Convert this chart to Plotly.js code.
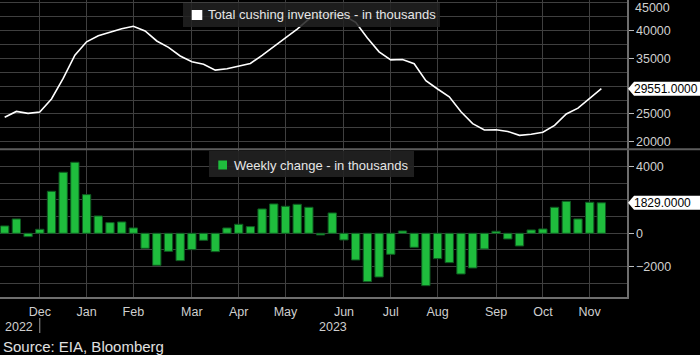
<!DOCTYPE html>
<html>
<head>
<meta charset="utf-8">
<script src="https://cdn.plot.ly/plotly-3.0.1.min.js"></script>
<style>html,body{margin:0;padding:0;background:#000;}#chart{width:700px;height:355px;}</style>
</head>
<body>
<div id="chart"></div>
<script>
// Week-ending dates (categories)
const weeks = [
  "2022-11-11","2022-11-18","2022-11-25","2022-12-02","2022-12-09","2022-12-16","2022-12-23","2022-12-30",
  "2023-01-06","2023-01-13","2023-01-20","2023-01-27","2023-02-03","2023-02-10","2023-02-17","2023-02-24",
  "2023-03-03","2023-03-10","2023-03-17","2023-03-24","2023-03-31","2023-04-07","2023-04-14","2023-04-21",
  "2023-04-28","2023-05-05","2023-05-12","2023-05-19","2023-05-26","2023-06-02","2023-06-09","2023-06-16",
  "2023-06-23","2023-06-30","2023-07-07","2023-07-14","2023-07-21","2023-07-28","2023-08-04","2023-08-11",
  "2023-08-18","2023-08-25","2023-09-01","2023-09-08","2023-09-15","2023-09-22","2023-09-29","2023-10-06",
  "2023-10-13","2023-10-20","2023-10-27","2023-11-03"
];
// Total Cushing inventories (thousand barrels)
const inventories = [
  24400,25450,25100,25350,27700,31400,35600,38000,39100,39700,40350,40800,39950,38150,37000,35450,
  34400,33950,32900,33150,33650,34100,35550,37200,38700,40300,42100,42700,42950,42750,41500,38700,
  36200,34750,34800,34050,31000,29500,28100,25400,23250,22100,22150,21850,21150,21350,21700,22950,
  25000,26050,27800,29551
];
// Weekly change (thousand barrels)
const weeklyChange = [
  440,860,-200,240,2520,3660,4260,2320,1040,640,680,320,-900,-1920,-1080,-1640,
  -980,-420,-1100,320,540,400,1460,1760,1620,1740,1560,-100,1220,-400,-1600,-2900,
  -2620,-1260,140,-840,-3140,-1520,-1760,-2440,-2080,-940,120,-340,-760,200,260,1560,
  1920,860,1860,1829
];
// Month tick positions and labels
const tickWeeks = ["2022-12-02","2022-12-30","2023-01-27","2023-03-03","2023-03-31","2023-04-28",
                   "2023-06-02","2023-06-30","2023-07-28","2023-09-01","2023-09-29","2023-10-27"];
const tickLabels = ["Dec","Jan","Feb","Mar","Apr","May","Jun","Jul","Aug","Sep","Oct","Nov"];
const invTicks = [20000,25000,35000,40000];
const chgTicks = [-2000,0,4000];

const FONT = "Liberation Sans, Arial, sans-serif";
const GRID = "#3f3f3f";
const AXIS = "#6e6e6e";
const TXT = "#cfcfcf";
const PW = 627, PH = 297; // plot area in px
const px = x => x / PW, py = y => 1 - y / PH;

const lastInv = inventories[inventories.length - 1];
const lastChg = weeklyChange[weeklyChange.length - 1];

const traces = [
  {type: "scatter", mode: "lines", x: weeks, y: inventories, xaxis: "x", yaxis: "y",
   line: {color: "#ffffff", width: 1.6}, hoverinfo: "skip", showlegend: false},
  {type: "bar", x: weeks, y: weeklyChange, xaxis: "x", yaxis: "y2",
   marker: {color: "#1fbd3d", line: {color: "#0e5a20", width: 1}}, hoverinfo: "skip", showlegend: false}
];

const labelPath = "M 1 0 L 7 -7 L 80 -7 L 80 7 L 7 7 Z";

const layout = {
  width: 700, height: 355,
  margin: {l: 0, r: 73, t: 0, b: 58},
  paper_bgcolor: "#000", plot_bgcolor: "#000",
  font: {family: FONT, color: TXT, size: 12.5},
  bargap: 0.29,
  showlegend: false,
  xaxis: {
    type: "category", anchor: "y2", range: [-0.4, 53.19],
    tickmode: "array", tickvals: tickWeeks, ticktext: tickLabels,
    showgrid: true, gridcolor: GRID, gridwidth: 1,
    showline: true, linecolor: AXIS, linewidth: 1.5,
    ticks: "outside", ticklen: 2, tickcolor: "rgba(0,0,0,0)",
    tickfont: {family: FONT, size: 12.5, color: TXT}, zeroline: false
  },
  yaxis: {
    domain: [0.5, 1], anchor: "x", side: "right", range: [18775, 45532],
    tickmode: "array", tickvals: invTicks, tickformat: "d",
    showgrid: true, gridcolor: GRID,
    minor: {dtick: 2500, tick0: 0, showgrid: true, gridcolor: GRID, ticks: ""},
    showline: true, linecolor: AXIS, linewidth: 1.5,
    ticks: "outside", ticklen: 5, tickcolor: "#bbbbbb",
    tickfont: {family: FONT, size: 12.5, color: TXT}, zeroline: false
  },
  yaxis2: {
    domain: [0, 0.495], anchor: "x", side: "right", range: [-3821, 4997],
    tickmode: "array", tickvals: chgTicks, tickformat: "d",
    showgrid: true, gridcolor: GRID,
    minor: {dtick: 1000, tick0: 0, showgrid: true, gridcolor: GRID, ticks: ""},
    showline: true, linecolor: AXIS, linewidth: 1.5,
    ticks: "outside", ticklen: 5, tickcolor: "#bbbbbb",
    tickfont: {family: FONT, size: 12.5, color: TXT}, zeroline: false
  },
  shapes: [
    // panel separator
    {type: "line", xref: "paper", yref: "paper", x0: 0, x1: px(700), y0: py(149.3), y1: py(149.3),
     line: {color: "#5c5c5c", width: 2}, layer: "above"},
    // year separator under Dec
    {type: "line", xref: "x", yref: "paper", x0: weeks.indexOf(tickWeeks[0]), x1: weeks.indexOf(tickWeeks[0]),
     y0: py(318), y1: py(333), line: {color: "#9a9a9a", width: 1}},
    // legend boxes
    {type: "rect", xref: "paper", yref: "paper", x0: px(183), x1: px(440), y0: py(27), y1: py(3),
     fillcolor: "rgba(34,34,34,0.86)", line: {width: 0}, layer: "above"},
    {type: "rect", xref: "paper", yref: "paper", x0: px(191.7), x1: px(202.3), y0: py(20), y1: py(10),
     fillcolor: "#ffffff", line: {width: 0}, layer: "above"},
    {type: "rect", xref: "paper", yref: "paper", x0: px(209), x1: px(414), y0: py(177), y1: py(151),
     fillcolor: "rgba(34,34,34,0.9)", line: {width: 0}, layer: "above"},
    {type: "rect", xref: "paper", yref: "paper", x0: px(218.3), x1: px(227), y0: py(169.5), y1: py(160.5),
     fillcolor: "#1fbd3d", line: {width: 0}, layer: "above"},
    // last value labels
    {type: "path", xref: "paper", yref: "y", xsizemode: "pixel", ysizemode: "pixel",
     xanchor: 1, yanchor: lastInv, path: labelPath, fillcolor: "#ffffff", line: {width: 0}, layer: "above"},
    {type: "path", xref: "paper", yref: "y2", xsizemode: "pixel", ysizemode: "pixel",
     xanchor: 1, yanchor: lastChg, path: labelPath, fillcolor: "#ffffff", line: {width: 0}, layer: "above"}
  ],
  annotations: [
    {xref: "paper", yref: "paper", x: px(206), y: py(15), xanchor: "left", yanchor: "middle",
     text: "Total cushing inventories - in thousands", showarrow: false,
     font: {family: FONT, size: 13, color: "#e6e6e6"}},
    {xref: "paper", yref: "paper", x: px(231.5), y: py(165), xanchor: "left", yanchor: "middle",
     text: "Weekly change - in thousands", showarrow: false,
     font: {family: FONT, size: 13, color: "#e6e6e6"}},
    {xref: "paper", yref: "y", x: 1, y: lastInv, xanchor: "left", yanchor: "middle", xshift: 5,
     text: lastInv.toFixed(4), showarrow: false, font: {family: FONT, size: 12, color: "#000"}},
    {xref: "paper", yref: "y2", x: 1, y: lastChg, xanchor: "left", yanchor: "middle", xshift: 5,
     text: lastChg.toFixed(4), showarrow: false, font: {family: FONT, size: 12, color: "#000"}},
    {xref: "paper", yref: "paper", x: px(633), y: py(8), xanchor: "left", yanchor: "middle",
     text: "45000", showarrow: false, font: {family: FONT, size: 12.5, color: TXT}},
    {xref: "paper", yref: "paper", x: px(35), y: py(327), xanchor: "right", yanchor: "middle",
     text: "2022", showarrow: false, font: {family: FONT, size: 12.5, color: TXT}},
    {xref: "paper", yref: "paper", x: px(333), y: py(327), xanchor: "center", yanchor: "middle",
     text: "2023", showarrow: false, font: {family: FONT, size: 12.5, color: TXT}},
    {xref: "paper", yref: "paper", x: px(1), y: py(347), xanchor: "left", yanchor: "middle",
     text: "Source: EIA, Bloomberg", showarrow: false, font: {family: FONT, size: 15, color: "#e0e0e0"}}
  ]
};

Plotly.newPlot("chart", traces, layout, {displayModeBar: false, staticPlot: true});
</script>
</body>
</html>
